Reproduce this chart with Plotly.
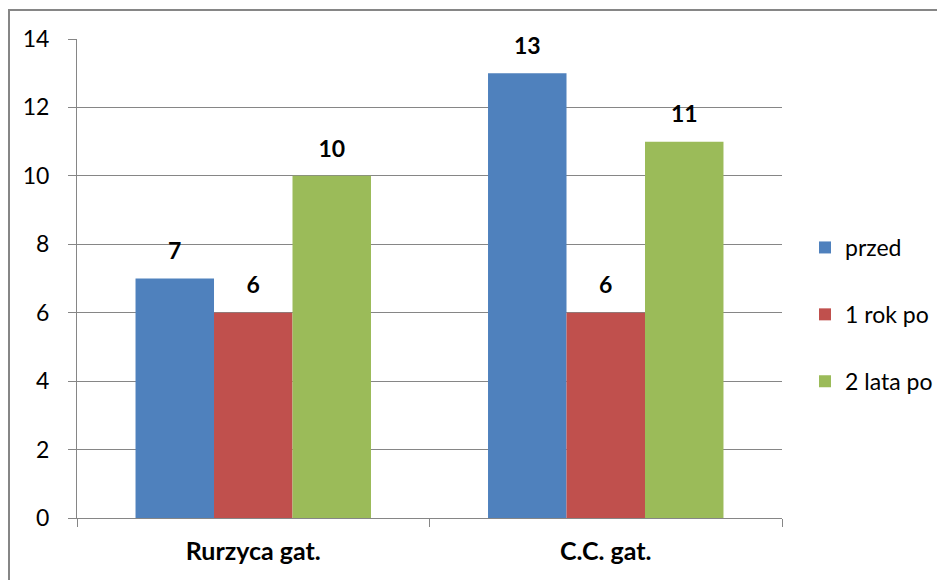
import plotly.graph_objects as go

categories = ["Rurzyca gat.", "C.C. gat."]
series_names = ["przed", "1 rok po", "2 lata po"]
przed = [7, 13]
rok1 = [6, 6]
lata2 = [10, 11]
colors = ["#4F81BD", "#C0504D", "#9BBB59"]
y_ticks = [0, 2, 4, 6, 8, 10, 12, 14]

FONT = "Lato, 'Open Sans', sans-serif"
OFF = 8  # page body margin

fig = go.Figure()
all_vals = [przed, rok1, lata2]
for i, (name, vals) in enumerate(zip(series_names, all_vals)):
    fig.add_trace(go.Bar(
        x=categories, y=vals, name=name,
        marker=dict(color=colors[i], line=dict(width=0)),
        legendgroup=name,
        hoverinfo="x+y+name",
    ))
for i, (name, vals) in enumerate(zip(series_names, all_vals)):
    fig.add_trace(go.Scatter(
        x=categories, y=vals, name=name,
        mode="markers+text",
        marker=dict(size=20, opacity=0),
        text=[f"<b>{v}</b>" for v in vals],
        textposition="top center",
        textfont=dict(family=FONT, size=23, color="black"),
        cliponaxis=False, showlegend=False, hoverinfo="skip",
        legendgroup=name,
    ))

W, H = 945 - OFF, 580 - OFF
L, R, T, B = 77 - OFF, 782 - OFF, 39 - OFF, 518 - OFF
pw, ph = R - L, B - T

def px_x(x):
    return (x - OFF - L) / pw

def px_y(y):
    return (B - (y - OFF)) / ph

fig.update_layout(
    width=W, height=H,
    margin=dict(l=L, r=W - R, t=T, b=H - B, pad=0, autoexpand=False),
    paper_bgcolor="white", plot_bgcolor="white",
    barmode="group", bargap=0.332, bargroupgap=0,
    scattermode="group", scattergap=0.332,
    font=dict(family=FONT, size=18, color="black"),
    showlegend=True,
    legend=dict(
        x=px_x(805), y=px_y(226), xanchor="left", yanchor="top",
        font=dict(family=FONT, size=23, color="black"),
        traceorder="grouped", tracegroupgap=34,
        itemwidth=30, bgcolor="rgba(0,0,0,0)",
    ),
    xaxis=dict(
        type="category",
        showline=True, linecolor="#868686", linewidth=1,
        ticks="outside", tickson="boundaries", ticklen=8, tickcolor="#868686",
        tickfont=dict(family=FONT, size=25, color="black", weight="bold"),
        ticklabelstandoff=11,
        showgrid=False,
    ),
    yaxis=dict(
        range=[0, 14], tickvals=y_ticks,
        showline=True, linecolor="#868686", linewidth=1,
        ticks="outside", ticklen=8, tickcolor="#868686",
        showgrid=True, gridcolor="#868686", gridwidth=1,
        tickfont=dict(family=FONT, size=23, color="black"),
        ticklabelstandoff=14,
        zeroline=False,
    ),
    shapes=[dict(
        type="rect", xref="paper", yref="paper",
        x0=px_x(9), x1=px_x(980), y0=px_y(620), y1=px_y(10),
        line=dict(color="#868686", width=2), fillcolor="rgba(0,0,0,0)",
        layer="above",
    )],
)

fig.write_html("out.html")
